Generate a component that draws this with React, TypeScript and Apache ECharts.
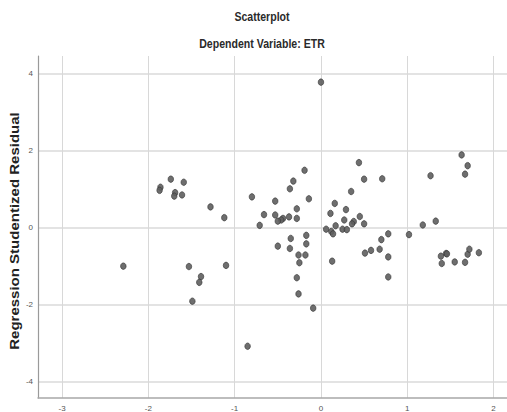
import React, { useEffect, useRef } from "react";
import * as echarts from "echarts";

const titleText = "Scatterplot";
const subtitleText = "Dependent Variable: ETR";
const yAxisName = "Regression Studentized Residual";

// Standardized predicted value (x) and studentized residual (y)
const xValues = [
  -2.29, -1.86, -1.87, -1.74, -1.59, -1.69, -1.70, -1.61, -1.28, -1.12,
  -1.53, -1.10, -1.39, -1.41, -1.49, 0.0, -0.19, 0.44, 0.5, -0.32,
  -0.36, 0.35, -0.8, -0.14, -0.53, 0.16, -0.28, 0.29, -0.66, -0.53,
  0.11, -0.28, -0.37, -0.44, -0.46, -0.5, 0.27, 0.45, 0.38, 0.36,
  -0.71, 0.17, 0.5, 0.06, 0.12, 0.14, 0.25, 0.3, -0.17, -0.35,
  -0.5, -0.36, -0.17, -0.26, -0.18, -0.25, 0.51, 0.58, 0.68, 0.13,
  -0.28, -0.26, -0.09, -0.85, 1.63, 1.7, 1.67, 1.27, 0.71, 1.33,
  1.18, 1.02, 0.78, 0.7, 0.78, 0.78, 1.39, 1.4, 1.45, 1.46,
  1.55, 1.67, 1.7, 1.72, 1.83,
];
const yValues = [
  -1.01, 1.04, 0.96, 1.25, 1.17, 0.9, 0.81, 0.84, 0.53, 0.25,
  -1.02, -0.99, -1.28, -1.43, -1.92, 3.77, 1.48, 1.68, 1.25, 1.2,
  1.0, 0.93, 0.79, 0.74, 0.68, 0.62, 0.48, 0.46, 0.33, 0.32,
  0.36, 0.23, 0.27, 0.23, 0.19, 0.16, 0.19, 0.28, 0.15, 0.09,
  0.05, 0.04, 0.09, -0.05, -0.11, -0.17, -0.05, -0.06, -0.21, -0.29,
  -0.49, -0.55, -0.43, -0.72, -0.72, -0.92, -0.67, -0.6, -0.57, -0.88,
  -1.31, -1.73, -2.1, -3.09, 1.88, 1.6, 1.38, 1.34, 1.26, 0.16,
  0.06, -0.19, -0.17, -0.32, -0.77, -1.29, -0.75, -0.94, -0.68, -0.69,
  -0.9, -0.91, -0.7, -0.57, -0.66,
];

const intLabel = (v: number) =>
  Math.abs(v - Math.round(v)) < 1e-6 ? String(Math.round(v)) : "";

const FONT = "Liberation Sans, Arial, sans-serif";

export default function App() {
  const ref = useRef<HTMLDivElement>(null);
  useEffect(() => {
    if (!ref.current) return;
    const chart = echarts.init(ref.current, undefined, { renderer: "svg" });
    const data = xValues.map((x, i) => [x, yValues[i]]);
    chart.setOption({
      animation: false,
      backgroundColor: "#ffffff",
      textStyle: { fontFamily: FONT },
      graphic: [
        {
          type: "text",
          x: 262,
          y: 17,
          scaleX: 0.88,
          style: {
            text: titleText,
            fontSize: 12,
            fontWeight: "bold",
            fontFamily: FONT,
            fill: "#2a2a2a",
            textAlign: "center",
            textVerticalAlign: "middle",
          },
        },
        {
          type: "text",
          x: 262,
          y: 44,
          scaleX: 0.88,
          style: {
            text: subtitleText,
            fontSize: 12,
            fontWeight: "bold",
            fontFamily: FONT,
            fill: "#2a2a2a",
            textAlign: "center",
            textVerticalAlign: "middle",
          },
        },
        {
          type: "text",
          x: 15,
          y: 231,
          rotation: Math.PI / 2,
          scaleX: 1.25,
          style: {
            text: yAxisName,
            fontSize: 12,
            fontWeight: "bold",
            fontFamily: FONT,
            fill: "#222",
            textAlign: "center",
            textVerticalAlign: "middle",
          },
        },
      ],
      grid: { left: 38, top: 56, right: 0, bottom: 14, containLabel: false },
      xAxis: {
        type: "value",
        min: -3.279,
        max: 2.156,
        splitNumber: 5,
        axisLine: { show: true, onZero: false, lineStyle: { color: "#a8a8a8", width: 1.5 } },
        axisTick: { show: false },
        axisLabel: {
          formatter: intLabel,
          showMinLabel: false,
          showMaxLabel: false,
          color: "#555",
          fontSize: 8,
          margin: 6,
        },
        splitLine: {
          show: true,
          showMinLine: false,
          showMaxLine: false,
          lineStyle: { color: "#d8d8d8", width: 1 },
        },
      },
      yAxis: {
        type: "value",
        min: -4.434,
        max: 4.449,
        splitNumber: 4,
        axisLine: { show: true, onZero: false, lineStyle: { color: "#9a9a9a", width: 1.2 } },
        axisTick: { show: false },
        axisLabel: {
          formatter: intLabel,
          showMinLabel: false,
          showMaxLabel: false,
          color: "#555",
          fontSize: 8,
          margin: 5,
        },
        splitLine: {
          show: true,
          showMinLine: false,
          showMaxLine: false,
          lineStyle: { color: "#dadada", width: 1.5 },
        },
      },
      series: [
        {
          type: "scatter",
          data,
          symbol: "circle",
          symbolSize: [5.5, 6.5],
          itemStyle: {
            color: "#5e5e5e",
            borderColor: "#333",
            borderWidth: 0.7,
            opacity: 0.9,
          },
        },
      ],
    });
    return () => chart.dispose();
  }, []);
  return (
    <div
      ref={ref}
      style={{ position: "absolute", left: 0, top: 0, width: 507, height: 412 }}
    />
  );
}
